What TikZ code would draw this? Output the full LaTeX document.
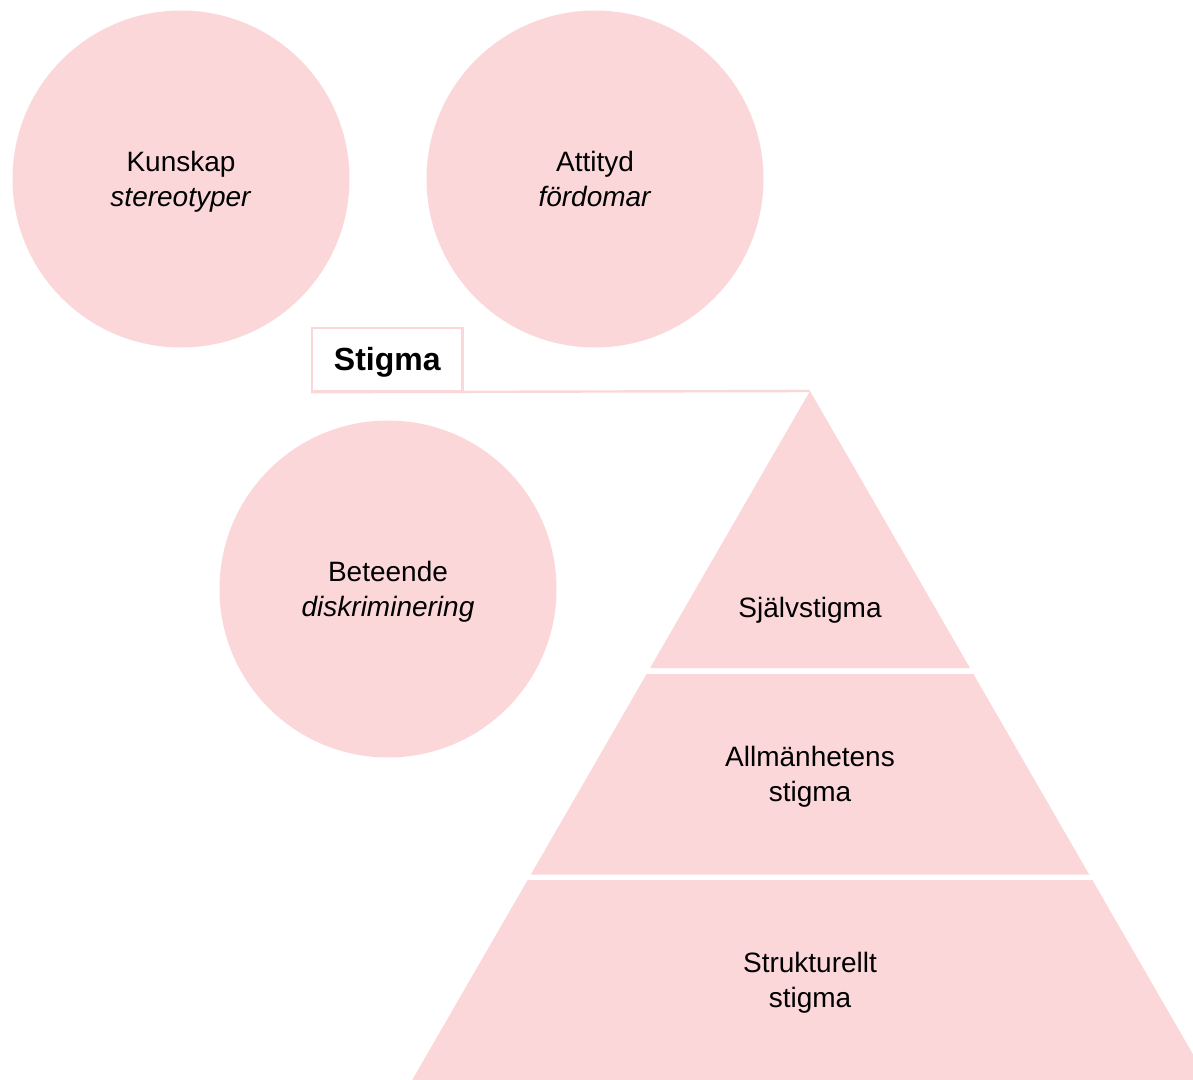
\documentclass[tikz,border=0pt]{standalone}
\usepackage{xcolor}
\usepackage{tikz}
\usepackage{fontspec}
\setmainfont{Liberation Sans}
\definecolor{stigmapink}{RGB}{251,215,218}

\begin{document}
\begin{tikzpicture}[x=0.5pt,y=-0.5pt]
\tikzstyle{bubble} = [circle, fill=stigmapink, minimum size=168.5pt, inner sep=0pt]
\tikzstyle{bubbletext} = [align=center, inner sep=0pt, yshift=-1.5pt, font=\fontsize{14}{17.5}\selectfont]
\tikzstyle{tier} = [fill=stigmapink]
\tikzstyle{tiertext} = [align=center, inner sep=0pt, font=\fontsize{14}{17.5}\selectfont]
\tikzstyle{titlebox} = [draw=stigmapink, line width=1.2pt, minimum width=75.25pt, minimum height=31.5pt, inner sep=0pt]
%

	\useasboundingbox (0,0) rectangle (1193,1080);
	\clip (0,0) rectangle (1193,1080);

	% the three components
	\node[bubble] (kunskap) at (181,179) {};
	\node[bubble] (attityd) at (595,179) {};
	\node[bubble] (beteende) at (388,589) {};
	\node[bubbletext] (kunskaptext) at (kunskap.center) {Kunskap\\\textit{stereotyper}};
	\node[bubbletext, yshift=1.5pt] (attitydtext) at (attityd.center) {Attityd\\\textit{fördomar}};
	\node[bubbletext] (beteendetext) at (beteende.center) {Beteende\\\textit{diskriminering}};

	% pyramid, cut in three levels
	\coordinate (apex) at (810,391);
	\foreach \ya/\yb in {391/668, 674/874.5, 880/1080}
		\fill[tier] ({810-(\ya-391)*0.5774},\ya) -- ({810+(\ya-391)*0.5774},\ya)
			-- ({810+(\yb-391)*0.5774},\yb) -- ({810-(\yb-391)*0.5774},\yb) -- cycle;

	\node[tiertext] (sjalv) at (810,610) {Självstigma};
	\node[tiertext] (allman) at (810,777) {Allmänhetens\\stigma};
	\node[tiertext] (struktur) at (810,983) {Strukturellt\\stigma};

	% heading and its rule out to the top of the pyramid
	\node[titlebox] (stigma) at (387.25,359.5) {};
	\node[font=\fontsize{16}{19}\selectfont\bfseries, inner sep=0pt, yshift=-1.5pt] (stigmatext) at (stigma.center) {Stigma};
	\draw[stigmapink, line width=1.2pt] (stigma.south west) -- (apex);
\end{tikzpicture}
\end{document}
